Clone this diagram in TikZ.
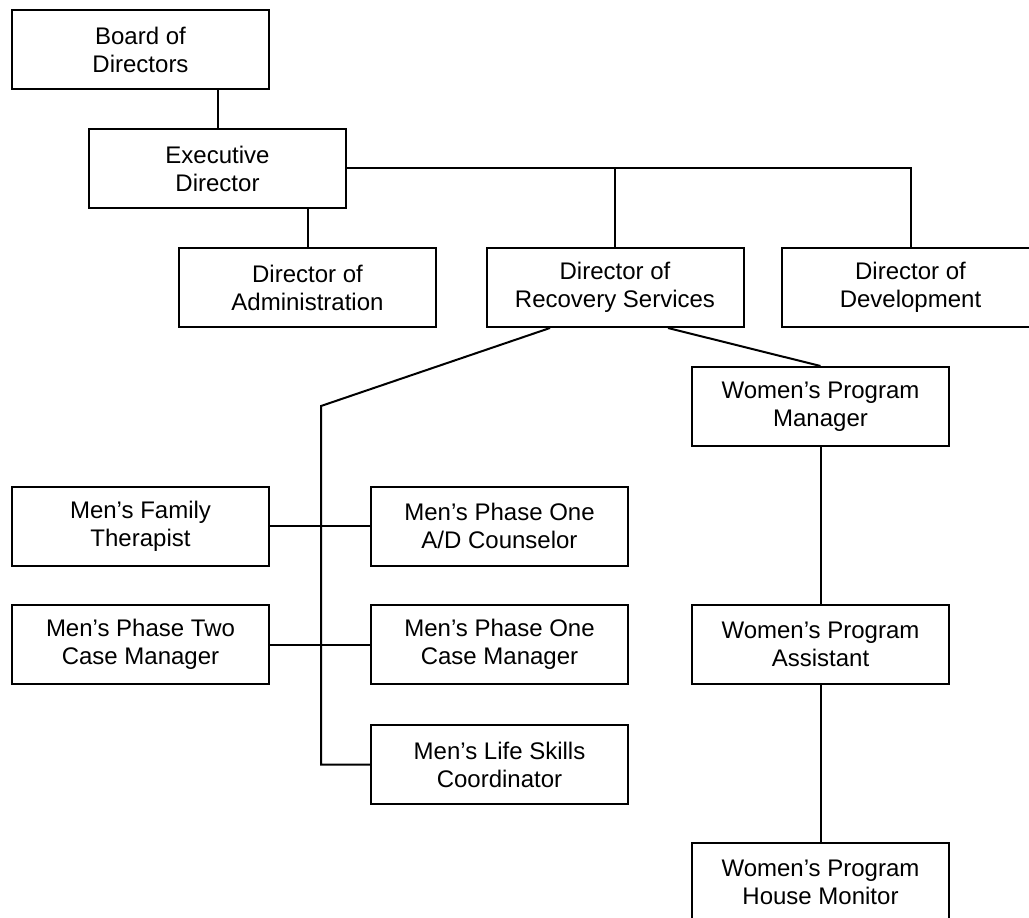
\documentclass[tikz,border=0pt]{standalone}
\usepackage{fontspec}
\setmainfont{Liberation Sans}
\usetikzlibrary{calc}
\begin{document}
\begin{tikzpicture}[x=1pt,y=-1pt,
  box/.style={draw,line width=2pt,minimum width=257pt,minimum height=79pt,inner sep=0pt,align=center,
    font=\fontsize{24}{28}\selectfont},
  conn/.style={line width=2pt}]
\useasboundingbox (0,0) rectangle (1029,918);
\clip (0,0) rectangle (1029,918);
\node[box] (board) at (140.5,49.5) {Board of\\Directors};
\node[box] (exec) at (217.5,168.5) {Executive\\Director};
\node[box] (admin) at (307.5,287.5) {Director of\\Administration};
\node[box] (rec) at (615,287.5) {Director of\\Recovery Services};
\node[box] (dev) at (910.5,287.5) {Director of\\Development};
\node[box] (wpm) at (820.5,406.5) {Women’s Program\\Manager};
\node[box] (mft) at (140.5,526) {Men’s Family\\Therapist};
\node[box] (adc) at (499.5,526) {Men’s Phase One\\A/D Counselor};
\node[box] (mp2) at (140.5,644.5) {Men’s Phase Two\\Case Manager};
\node[box] (mp1) at (499.5,644.5) {Men’s Phase One\\Case Manager};
\node[box] (mls) at (499.5,764.5) {Men’s Life Skills\\Coordinator};
\node[box] (wpa) at (820.5,644.5) {Women’s Program\\Assistant};
\node[box] (whm) at (820.5,882.5) {Women’s Program\\House Monitor};
% connectors
\draw[conn] (exec.north) -- (exec.north |- board.south);
\draw[conn] (exec.east |- 0,168) -- (dev.north |- 0,168) -- (dev.north);
\draw[conn] (rec.north |- 0,168) -- (rec.north);
\draw[conn] (admin.north) -- (admin.north |- exec.south);
\coordinate (recl) at ($(rec.south)+(-65,0)$);
\coordinate (recr) at ($(rec.south)+(53,0)$);
\coordinate (bend) at (321,406);
\draw[conn] (recl) -- (bend) -- (bend |- mls.west) -- (mls.west);
\draw[conn] (mft.east) -- (adc.west);
\draw[conn] (mp2.east) -- (mp1.west);
\draw[conn] (recr) -- (wpm.north);
\draw[conn] (wpm.south) -- (wpa.north);
\draw[conn] (wpa.south) -- (whm.north);
\end{tikzpicture}
\end{document}
